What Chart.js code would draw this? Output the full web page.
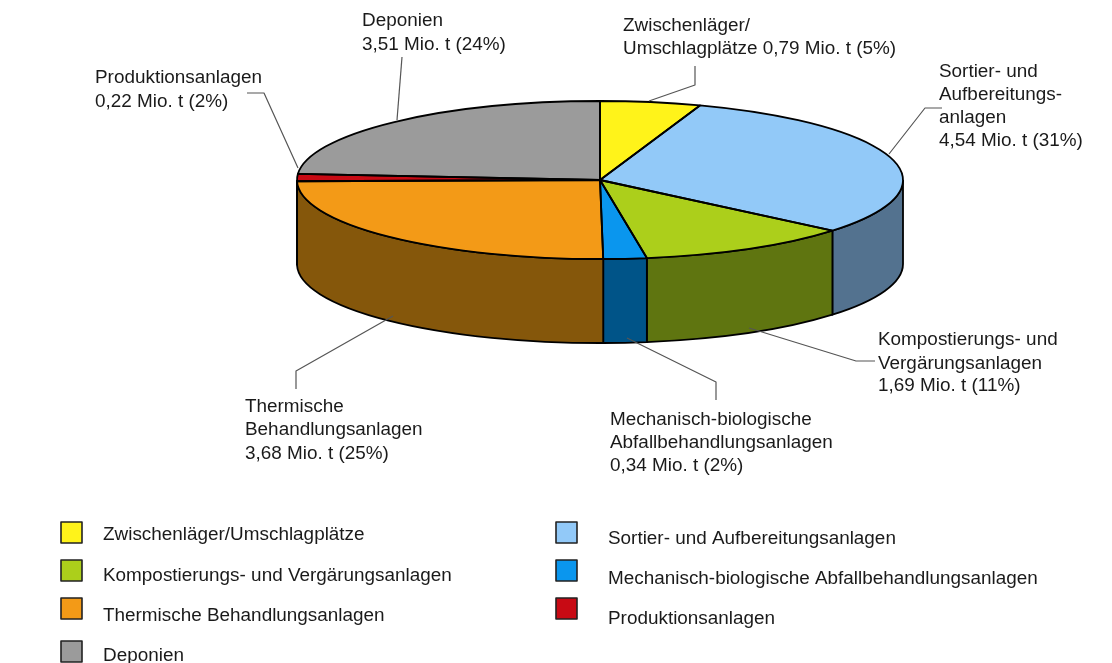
<!DOCTYPE html>
<html lang="de">
<head>
<meta charset="utf-8">
<style>
html,body{margin:0;padding:0;background:#fff;overflow:hidden}
#wrap{position:absolute;left:0;top:0;width:1112px;height:663px}
</style>
<script src="https://cdn.jsdelivr.net/npm/chart.js@4"></script>
</head>
<body>
<div id="wrap"><canvas id="c" width="1112" height="663"></canvas></div>
<script>
const categories = ['Zwischenläger/Umschlagplätze','Sortier- und Aufbereitungsanlagen','Kompostierungs- und Vergärungsanlagen','Mechanisch-biologische Abfallbehandlungsanlagen','Thermische Behandlungsanlagen','Produktionsanlagen','Deponien'];
const values = [0.79,4.54,1.69,0.34,3.68,0.22,3.51];
const topColors = ['#FFF31A','#92C9F8','#ACCF1B','#0A96EE','#F39A17','#C80A14','#9B9B9B'];
const sideColors = ['#857E0D','#53728F','#5F7510','#005488','#85570B','#68050A','#505050'];
const calloutLines = [
  ['Zwischenläger/','Umschlagplätze 0,79 Mio. t (5%)'],
  ['Sortier- und','Aufbereitungs-','anlagen','4,54 Mio. t (31%)'],
  ['Kompostierungs- und','Vergärungsanlagen','1,69 Mio. t (11%)'],
  ['Mechanisch-biologische','Abfallbehandlungsanlagen','0,34 Mio. t (2%)'],
  ['Thermische','Behandlungsanlagen','3,68 Mio. t (25%)'],
  ['Produktionsanlagen','0,22 Mio. t (2%)'],
  ['Deponien','3,51 Mio. t (24%)']
];

// layout only
const CX=600, CY=180, RX=303, RY=79, DEPTH=84;
const FONT='17.5px "Liberation Sans", Arial, sans-serif';
const TEXT_STRETCH=1.08;
const calloutPos = [
  {x:623,y:[31,54]},
  {x:939,y:[77,100,123,146]},
  {x:878,y:[345,369,391]},
  {x:610,y:[425,448,471]},
  {x:245,y:[412,435,459]},
  {x:95,y:[83,107]},
  {x:362,y:[26,50]}
];
const leaders = [
  [[695,66],[695,85],[649,101]],
  [[942,108],[925,108],[889,154]],
  [[875,361],[856,361],[749,328]],
  [[716,400],[716,382],[627,338]],
  [[296,389],[296,371],[393,316]],
  [[247,93],[264,93],[298,168]],
  [[402,57],[397,120]]
];
const legendPos = [
  {bx:61,by:522,tx:103,ty:540},
  {bx:556,by:522,tx:608,ty:544},
  {bx:61,by:560,tx:103,ty:581},
  {bx:556,by:560,tx:608,ty:584},
  {bx:61,by:598,tx:103,ty:621},
  {bx:556,by:598,tx:608,ty:624},
  {bx:61,by:641,tx:103,ty:661}
];

function stretchedText(ctx,t,x,y){
  ctx.save();
  ctx.translate(x,y);
  ctx.scale(TEXT_STRETCH,1);
  ctx.fillText(t,0,0);
  ctx.restore();
}

const pie3d = {
  id:'pie3d',
  beforeDatasetsDraw(chart){
    const ctx=chart.ctx, arcs=chart.getDatasetMeta(0).data;
    ctx.save();
    arcs.forEach((arc,i)=>{
      const a=Math.max(arc.startAngle,0), b=Math.min(arc.endAngle,Math.PI);
      if(b<=a) return;
      ctx.beginPath();
      ctx.ellipse(CX,CY,RX,RY,0,a,b,false);
      ctx.ellipse(CX,CY+DEPTH,RX,RY,0,b,a,true);
      ctx.closePath();
      ctx.fillStyle=sideColors[i];
      ctx.fill();
      ctx.strokeStyle='#000';
      ctx.lineWidth=1.8;
      ctx.stroke();
    });
    ctx.restore();
  },
  beforeDatasetDraw(chart){
    const ctx=chart.ctx, arc=chart.getDatasetMeta(0).data[0];
    ctx.save();
    ctx.translate(CX,CY);
    ctx.scale(RX/arc.outerRadius,RY/arc.outerRadius);
    ctx.translate(-arc.x,-arc.y);
  },
  afterDatasetDraw(chart){ chart.ctx.restore(); },
  afterDatasetsDraw(chart){
    const ctx=chart.ctx, arcs=chart.getDatasetMeta(0).data;
    ctx.save();
    ctx.strokeStyle='#000';
    ctx.lineWidth=1.8;
    ctx.lineJoin='round';
    arcs.forEach(arc=>{
      ctx.beginPath();
      ctx.moveTo(CX,CY);
      ctx.ellipse(CX,CY,RX,RY,0,arc.startAngle,arc.endAngle,false);
      ctx.closePath();
      ctx.stroke();
    });
    // leader lines
    ctx.strokeStyle='#555';
    ctx.lineWidth=1.2;
    leaders.forEach(pts=>{
      ctx.beginPath();
      pts.forEach((p,i)=> i?ctx.lineTo(p[0],p[1]):ctx.moveTo(p[0],p[1]));
      ctx.stroke();
    });
    // callouts
    ctx.fillStyle='#1a1a1a';
    ctx.font=FONT;
    ctx.textAlign='left';
    ctx.textBaseline='alphabetic';
    calloutLines.forEach((lines,i)=>{
      lines.forEach((t,j)=>stretchedText(ctx,t,calloutPos[i].x,calloutPos[i].y[j]));
    });
    // legend
    categories.forEach((t,i)=>{
      const p=legendPos[i];
      ctx.fillStyle=topColors[i];
      ctx.fillRect(p.bx,p.by,21,21);
      ctx.strokeStyle='#222';
      ctx.lineWidth=1.6;
      ctx.strokeRect(p.bx,p.by,21,21);
      ctx.fillStyle='#1a1a1a';
      stretchedText(ctx,t,p.tx,p.ty);
    });
    ctx.restore();
  }
};

new Chart(document.getElementById('c'),{
  type:'pie',
  data:{labels:categories,datasets:[{data:values,backgroundColor:topColors,borderWidth:0}]},
  options:{
    responsive:false,
    animation:false,
    events:[],
    layout:{padding:0},
    plugins:{legend:{display:false},tooltip:{enabled:false},title:{display:false}}
  },
  plugins:[pie3d]
});
</script>
</body>
</html>
